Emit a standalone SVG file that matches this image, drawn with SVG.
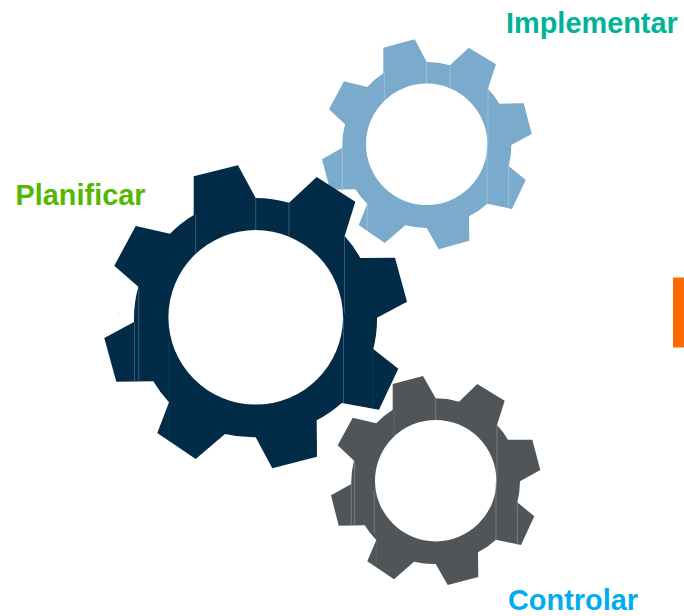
<svg xmlns="http://www.w3.org/2000/svg" width="684" height="616" viewBox="0 0 684 616">
<style>
.lbl{font-family:"Liberation Sans",Arial,sans-serif;font-weight:700;font-size:28.9px}
.gear{fill-rule:evenodd}
.seam{stroke-width:.6;fill:none}
#planificar .gear{fill:#012b47}
#planificar .seam{stroke:#5d7a90}
#implementar .gear{fill:#7babcc}
#implementar .seam{stroke:#b4cfe2}
#controlar .gear{fill:#505559}
#controlar .seam{stroke:#92979a}
</style>
<rect x="0" y="0" width="684" height="616" fill="#fff"/>
<g id="implementar">
<path class="gear" d="M383.3 47.7L414.7 39.3L426.7 62A82.5 82.5 0 0 1 450 65.3L468.7 47.7L496 64.3L488 88.7A82.5 82.5 0 0 1 499.3 103.7L523.7 103.3L531.7 134L511.3 145A82.5 82.5 0 0 1 508.7 166L525.7 180L512 209L487.3 203.7A82.5 82.5 0 0 1 469 216.3L469.3 240.7L438.7 249.3L426.7 228A82.5 82.5 0 0 1 405.3 225.3L384.7 243L358.7 225L367.3 204A82.5 82.5 0 0 1 355.3 189.3L330 189.7L322 159.3L342.3 147.7A82.5 82.5 0 0 1 345 124.3L329 109.3L344 81.3L367.3 87A82.5 82.5 0 0 1 383.3 73.3ZM487.4 144.3A60.7 60.7 0 1 0 366 144.3A60.7 60.7 0 1 0 487.4 144.3Z"/>
<path class="seam" d="M426.7 62V84M450 65.3V89.3M384.3 73.3V100.7M488 88.7V145M487 145V203.7M342.3 147.7V189.3M508.7 166V209M367.3 204V231"/>
</g>
<g id="planificar">
<path class="gear" d="M193.7 176.3L238 165.3L255.7 198A120 120 0 0 1 289 202.7L316.7 177L355.3 201.7L344.7 236A120 120 0 0 1 360.3 258L395 257.7L407 301.7L377 317.7A120 120 0 0 1 373.3 349L398.3 368.7L379 409.7L341.7 403A120 120 0 0 1 316.7 420.3L317 456.7L272.3 468.3L255.7 437.3A120 120 0 0 1 225 434L195.7 459L157.3 433L169 402.3A120 120 0 0 1 153.3 381.3L116.3 381.7L104.3 338L134 322A120 120 0 0 1 138.3 286.7L114.3 265.7L135.7 226L170 233.7A120 120 0 0 1 193.7 215ZM343 317.3A87.3 87.3 0 1 0 168.4 317.3A87.3 87.3 0 1 0 343 317.3Z"/>
<path class="seam" d="M255.7 198V230.3M289 202.7V236.7M195.7 215V254M344.5 236V313M343.5 317V403M138.7 288.3V381.3M134.5 322V381.3"/>
<path class="seam" stroke-opacity=".35" d="M372.7 349V409.7M169 340V439.7"/>
<path class="seam" stroke-opacity=".6" d="M118.5 314L119.5 313.3"/>
</g>
<g id="controlar">
<path class="gear" d="M392.7 384L423 376L435.7 398.3A82.5 82.5 0 0 1 459 401.7L477.3 384L504.7 400.7L497 425A82.5 82.5 0 0 1 508 439.7L532.3 439.7L540.3 470L520 481.3A82.5 82.5 0 0 1 517.3 502.3L534.3 516.3L521 545L496 539.7A82.5 82.5 0 0 1 478 552.3L478.3 577L447.7 585L435.7 564A82.5 82.5 0 0 1 414 561.7L394 579.3L367.3 561.3L376.3 540A82.5 82.5 0 0 1 364.7 525.3L338.7 525.7L331 495.3L351.3 484A82.5 82.5 0 0 1 354 460.7L337.7 445.3L352.7 417.7L376.3 423.3A82.5 82.5 0 0 1 392.7 409.7ZM496.4 480.7A60.7 60.7 0 1 0 375 480.7A60.7 60.7 0 1 0 496.4 480.7Z"/>
<path class="seam" d="M435.7 398.3V420M497 425V478M496 482V539.7M351.3 484V525.7M354.7 461V525.7M517.3 502.3V545M374.3 490V533"/>
<path class="seam" stroke-opacity=".4" d="M376.3 540V565M394 409.7V436"/>
</g>
<rect id="accent" x="673" y="277.5" width="11" height="70" fill="#ff6a00"/>
<g id="labels">
<text class="lbl" x="506" y="33" fill="#00b398">Implementar</text>
<text class="lbl" x="15.5" y="205" fill="#54b800">Planificar</text>
<text class="lbl" x="508" y="609.8" fill="#00aeef">Controlar</text>
</g>
</svg>
